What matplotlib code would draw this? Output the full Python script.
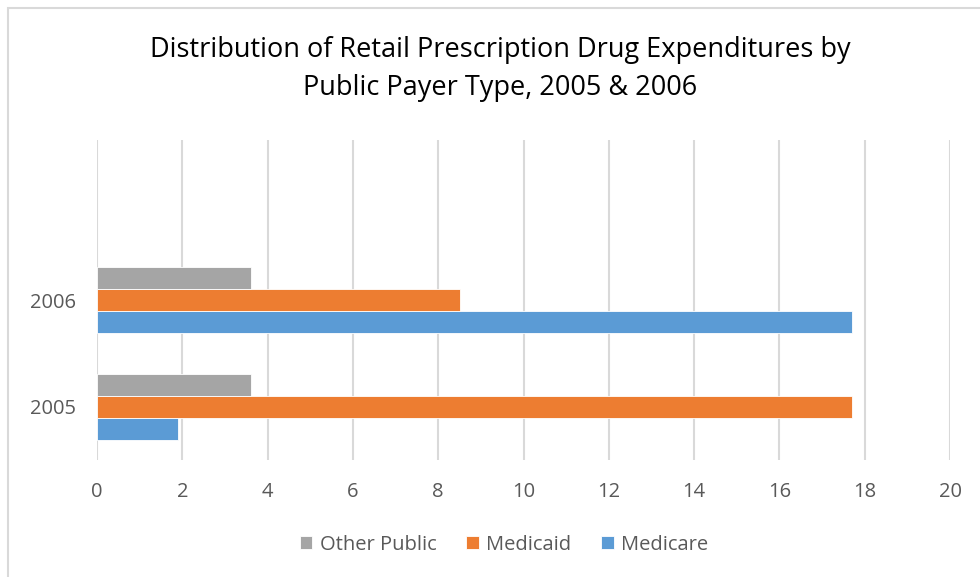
import matplotlib
matplotlib.use("Agg")
import matplotlib.pyplot as plt
from matplotlib.patches import Rectangle
import numpy as np

years = ["2005", "2006"]
series = ["Medicare", "Medicaid", "Other Public"]
medicare = [1.9, 17.7]
medicaid = [17.7, 8.5]
other_public = [3.6, 3.6]
colors = {"Medicare": "#5B9BD5", "Medicaid": "#ED7D31", "Other Public": "#A5A5A5"}
xticks = [0, 2, 4, 6, 8, 10, 12, 14, 16, 18, 20]

plt.rcParams['font.family'] = ['Open Sans', 'DejaVu Sans']

W, H = 980, 577
fig = plt.figure(figsize=(W / 100, H / 100), dpi=100)
ax = fig.add_axes([97 / W, 1 - 460 / H, (950 - 97) / W, (460 - 140) / H])

# chart frame
fig.patches.append(Rectangle((8 / W, -0.05), 1.1, 1 - 8 / H + 0.05, transform=fig.transFigure,
                             fill=False, edgecolor="#D9D9D9", linewidth=1.5, zorder=0))

y = np.arange(len(years))
h = 0.207
vals = {"Medicare": medicare, "Medicaid": medicaid, "Other Public": other_public}
offsets = {"Medicare": -h, "Medicaid": 0, "Other Public": h}
bars = {}
for s in series:
    bars[s] = ax.barh(y + offsets[s], vals[s], height=h, color=colors[s],
                      edgecolor="white", linewidth=0.6, zorder=3, label=s)

ax.set_xlim(0, 20)
ax.set_ylim(-0.5, 2.5)
ax.set_xticks(xticks)
ax.set_xticklabels([str(t) for t in xticks])
ax.set_yticks(y)
ax.set_yticklabels(years)
ax.tick_params(axis='both', length=0, labelsize=14.5, labelcolor="#595959")
ax.tick_params(axis='x', pad=16)
ax.tick_params(axis='y', pad=15)
ax.grid(axis='x', color="#D9D9D9", linewidth=1.5, zorder=0)
for sp in ax.spines.values():
    sp.set_visible(False)

fig.text(500 / W, 1 - 69 / H,
         "Distribution of Retail Prescription Drug Expenditures by\nPublic Payer Type, 2005 & 2006",
         ha='center', va='center', fontsize=19.5, color="#000000", linespacing=1.45)

handles = [bars["Other Public"], bars["Medicaid"], bars["Medicare"]]
fig.legend(handles, ["Other Public", "Medicaid", "Medicare"], loc='center',
           bbox_to_anchor=(504 / W, 1 - 545 / H), ncol=3, frameon=False,
           fontsize=14.5, labelcolor="#595959", handlelength=0.62, handleheight=0.62,
           handletextpad=0.35, columnspacing=1.5)

fig.savefig("out.png", dpi=100)
